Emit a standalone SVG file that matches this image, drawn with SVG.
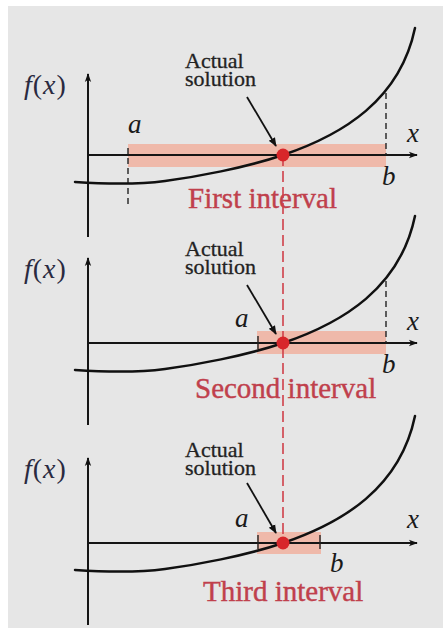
<svg xmlns="http://www.w3.org/2000/svg" width="443" height="639" viewBox="0 0 443 639">
<style>
.bg{fill:#e6e6e6}
.axis{stroke:#151515;stroke-width:2;fill:none}
.curve{stroke:#111;stroke-width:2.5;fill:none;stroke-linecap:round}
.band{fill:#f1a996;opacity:0.75}
.bdash{stroke:#222;stroke-width:1.4;stroke-dasharray:6 4;fill:none}
.tick{stroke:#222;stroke-width:1.4;fill:none}
.rdash{stroke:#d0404a;stroke-width:1.6;stroke-dasharray:11 5;fill:none}
.dot{fill:#d8262a}
.lbl{font-family:"Liberation Serif","Times New Roman",serif;font-size:22px;fill:#222;stroke:#222;stroke-width:0.3}
.var{font-family:"Liberation Serif","Times New Roman",serif;font-style:italic;font-size:27px;fill:#1a1a1a}
.fx{font-family:"Liberation Serif","Times New Roman",serif;font-size:28px;letter-spacing:1px;fill:#2a2a40}
.int{font-family:"Liberation Serif","Times New Roman",serif;font-size:29px;fill:#c0404c;stroke:#c0404c;stroke-width:0.4}
.ptr{stroke:#111;stroke-width:1.8;fill:none}
</style>
<defs>
<marker id="ah" viewBox="0 0 10 10" refX="9" refY="5" markerWidth="9" markerHeight="9" markerUnits="userSpaceOnUse" orient="auto">
<path d="M0,1 L10,5 L0,9 Z" fill="#111"/>
</marker>
<marker id="axh" viewBox="0 0 10 10" refX="9" refY="5" markerWidth="11" markerHeight="9" markerUnits="userSpaceOnUse" orient="auto">
<path d="M0,1.5 L10,5 L0,8.5 L2.5,5 Z" fill="#111"/>
</marker>
<path id="fcurve" d="M75,182 C105,184 135,185 165,181 C195,177 245,168 283,155 C343,134.6 400,100 415,28"/>
</defs>
<rect class="bg" x="8" y="6" width="435" height="622"/>

<g id="panel1">
<rect class="band" x="128" y="144" width="258" height="23"/>
<line class="axis" x1="88" y1="237" x2="88" y2="74" marker-end="url(#axh)"/>
<line class="axis" x1="88" y1="155" x2="417" y2="155" marker-end="url(#axh)"/>
<line class="bdash" x1="128" y1="148" x2="128" y2="208"/>
<line class="bdash" x1="386" y1="93" x2="386" y2="155"/>
<use href="#fcurve" class="curve"/>
<text class="fx" x="24" y="94"><tspan font-style="italic">f</tspan>(<tspan font-style="italic">x</tspan>)</text>
<text class="var" x="128" y="133">a</text>
<text class="var" x="382" y="185">b</text>
<text class="var" x="407" y="142">x</text>
<text class="lbl" x="185" y="68">Actual</text>
<text class="lbl" x="185" y="86">solution</text>
<text class="int" x="188" y="208">First interval</text>
</g>

<g id="panel2">
<rect class="band" x="257" y="331" width="129" height="23"/>
<line class="axis" x1="88" y1="425" x2="88" y2="258" marker-end="url(#axh)"/>
<line class="axis" x1="88" y1="343" x2="417" y2="343" marker-end="url(#axh)"/>
<line class="tick" x1="258" y1="336" x2="258" y2="349"/>
<line class="bdash" x1="386" y1="281" x2="386" y2="343"/>
<use href="#fcurve" class="curve" transform="translate(0,188)"/>
<text class="fx" x="24" y="278"><tspan font-style="italic">f</tspan>(<tspan font-style="italic">x</tspan>)</text>
<text class="var" x="235" y="327">a</text>
<text class="var" x="382" y="373">b</text>
<text class="var" x="407" y="330">x</text>
<text class="lbl" x="185" y="256">Actual</text>
<text class="lbl" x="185" y="274">solution</text>
<text class="int" x="195" y="398">Second interval</text>
</g>

<g id="panel3">
<rect class="band" x="257" y="532" width="64" height="22"/>
<line class="axis" x1="88" y1="625" x2="88" y2="458" marker-end="url(#axh)"/>
<line class="axis" x1="88" y1="543" x2="417" y2="543" marker-end="url(#axh)"/>
<line class="tick" x1="258" y1="535" x2="258" y2="549"/>
<line class="tick" x1="320" y1="535" x2="320" y2="549"/>
<use href="#fcurve" class="curve" transform="translate(0,388)"/>
<text class="fx" x="24" y="478"><tspan font-style="italic">f</tspan>(<tspan font-style="italic">x</tspan>)</text>
<text class="var" x="235" y="527">a</text>
<text class="var" x="330" y="572">b</text>
<text class="var" x="407" y="528">x</text>
<text class="lbl" x="185" y="457">Actual</text>
<text class="lbl" x="185" y="475">solution</text>
<text class="int" x="203" y="601">Third interval</text>
</g>

<g id="connectors">
<line class="rdash" x1="283" y1="155" x2="283" y2="543"/>
<line class="ptr" x1="247" y1="97" x2="276" y2="146" marker-end="url(#ah)"/>
<line class="ptr" x1="247" y1="285" x2="276" y2="334" marker-end="url(#ah)"/>
<line class="ptr" x1="247" y1="483" x2="276" y2="533" marker-end="url(#ah)"/>
</g>

<g id="roots">
<circle class="dot" cx="283" cy="155" r="6.5"/>
<circle class="dot" cx="283" cy="343" r="6.5"/>
<circle class="dot" cx="283" cy="543" r="6.5"/>
</g>
</svg>
